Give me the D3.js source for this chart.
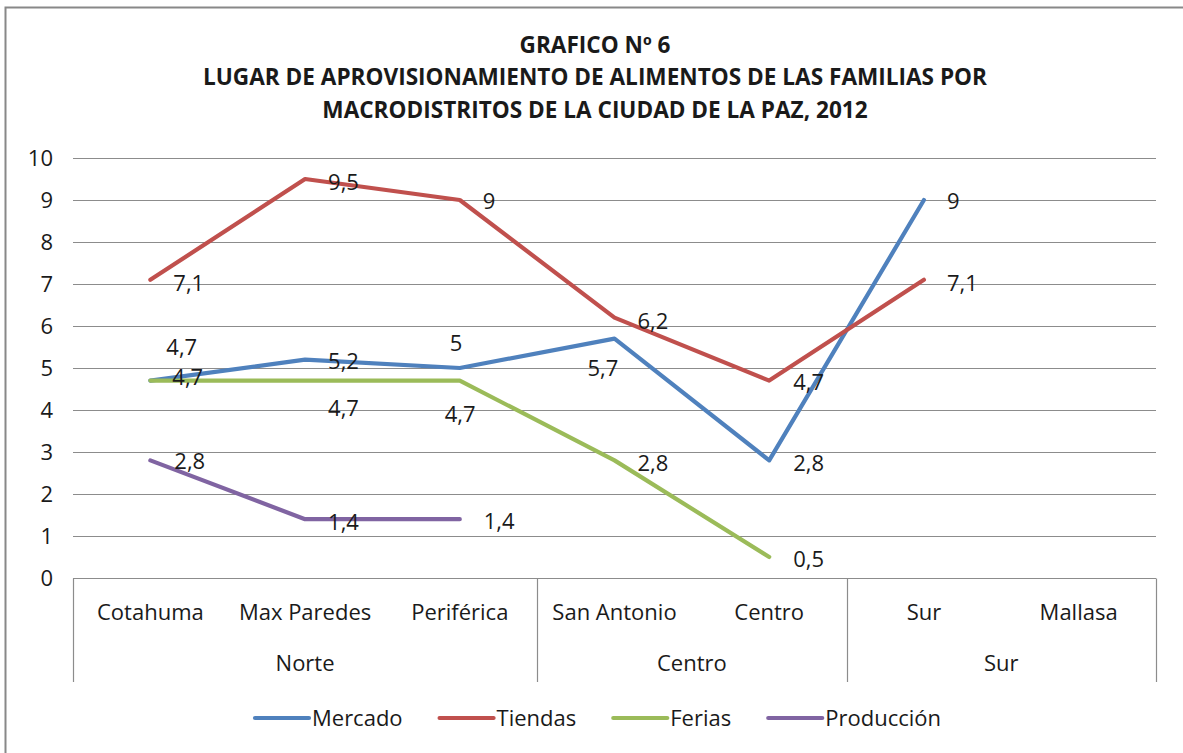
<!DOCTYPE html>
<html>
<head>
<meta charset="utf-8">
<script src="https://cdn.jsdelivr.net/npm/d3@7"></script>
<style>
  body { margin: 0; background: #fff; }
  svg text { font-family: "Open Sans", sans-serif; fill: #1a1a1a; }
</style>
</head>
<body>
<svg id="chart" width="1183" height="753"></svg>
<script>
const titleLines = [
  'GRAFICO Nº 6',
  'LUGAR DE APROVISIONAMIENTO DE ALIMENTOS DE LAS FAMILIAS POR',
  'MACRODISTRITOS DE LA CIUDAD DE LA PAZ, 2012'
]
const districts = ['Cotahuma', 'Max Paredes', 'Periférica', 'San Antonio', 'Centro', 'Sur', 'Mallasa']
const groups = ['Norte', 'Centro', 'Sur']
const groupSpan = [[0, 2], [3, 4], [5, 6]]
const yTicks = [0, 1, 2, 3, 4, 5, 6, 7, 8, 9, 10]

const seriesNames = ['Mercado', 'Tiendas', 'Ferias', 'Producción']
const mercado    = [4.7, 5.2, 5, 5.7, 2.8, 9, null]
const tiendas    = [7.1, 9.5, 9, 6.2, 4.7, 7.1, null]
const ferias     = [4.7, 4.7, 4.7, 2.8, 0.5, null, null]
const produccion = [2.8, 1.4, 1.4, null, null, null, null]
const colors = ['#4F81BD', '#C0504D', '#9BBB59', '#8064A2']

// label offsets from each point (left edge of text, vertical centre)
const mercadoLbl    = [[16, -33], [23, 2], [-10, -25], [-27, 30], [24, 3], [23, 1]]
const tiendasLbl    = [[23, 3], [23, 3], [23, 1], [23, 4], [24, 2], [23, 3]]
const feriasLbl     = [[22, -3], [23, 28], [-15, 34], [23, 3], [24, 2]]
const produccionLbl = [[24, 1], [23, 3], [24, 2]]

const series = [mercado, tiendas, ferias, produccion]
const labelOffsets = [mercadoLbl, tiendasLbl, feriasLbl, produccionLbl]

const svg = d3.select('#chart')
const margin = {top: 158, right: 27, bottom: 175, left: 73}
const W = 1183, H = 753
const fs = 22

// outer frame
svg.append('rect')
  .attr('x', 5.5).attr('y', 7.5)
  .attr('width', W + 20).attr('height', H + 20)
  .attr('fill', 'none').attr('stroke', '#888').attr('stroke-width', 2)

// title
svg.append('g')
  .selectAll('text')
  .data(titleLines)
  .join('text')
    .attr('x', 595)
    .attr('y', (d, i) => 45 + i * 32.5)
    .attr('dy', '0.35em')
    .attr('text-anchor', 'middle')
    .attr('font-weight', 'bold')
    .attr('font-size', 22.6)
    .text(d => d)

const x = d3.scaleBand()
  .domain(d3.range(districts.length))
  .range([margin.left, W - margin.right])
  .padding(0)

const y = d3.scaleLinear()
  .domain([0, 10])
  .range([H - margin.bottom, margin.top])

// gridlines
svg.append('g')
  .selectAll('line')
  .data(yTicks.filter(d => d > 0))
  .join('line')
    .attr('x1', margin.left).attr('x2', W - margin.right)
    .attr('y1', d => Math.round(y(d)) + 0.5).attr('y2', d => Math.round(y(d)) + 0.5)
    .attr('stroke', '#8c8c8c').attr('stroke-width', 1.2)

// y axis
const yAxis = svg.append('g')
  .attr('transform', 'translate(' + margin.left + ',0)')
  .call(d3.axisLeft(y).tickValues(yTicks).tickSize(0).tickPadding(20))
yAxis.select('.domain').remove()
yAxis.selectAll('text')
  .attr('font-size', fs)
  .attr('font-family', '"Open Sans", sans-serif')
  .attr('fill', '#1a1a1a')

// category axis box
const axisY = Math.round(y(0)) + 0.5
const axisBottom = 682
const xAxisG = svg.append('g')
xAxisG.append('line')
  .attr('x1', margin.left).attr('x2', W - margin.right)
  .attr('y1', axisY).attr('y2', axisY)
  .attr('stroke', '#8c8c8c').attr('stroke-width', 1.2)

const seps = [0].concat(groupSpan.map(g => g[1] + 1))
xAxisG.selectAll('line.sep')
  .data(seps)
  .join('line')
    .attr('class', 'sep')
    .attr('x1', d => Math.round(x(d) !== undefined ? x(d) : W - margin.right) + 0.5)
    .attr('x2', d => Math.round(x(d) !== undefined ? x(d) : W - margin.right) + 0.5)
    .attr('y1', axisY).attr('y2', axisBottom)
    .attr('stroke', '#8c8c8c').attr('stroke-width', 1.2)

xAxisG.selectAll('text.cat')
  .data(districts)
  .join('text')
    .attr('class', 'cat')
    .attr('x', (d, i) => x(i) + x.bandwidth() / 2)
    .attr('y', 612)
    .attr('dy', '0.35em')
    .attr('text-anchor', 'middle')
    .attr('font-size', fs)
    .text(d => d)

xAxisG.selectAll('text.grp')
  .data(groups)
  .join('text')
    .attr('class', 'grp')
    .attr('x', (d, i) => (x(groupSpan[i][0]) + x(groupSpan[i][1]) + x.bandwidth()) / 2)
    .attr('y', 663)
    .attr('dy', '0.35em')
    .attr('text-anchor', 'middle')
    .attr('font-size', fs)
    .text(d => d)

// lines
const line = d3.line()
  .defined(d => d != null)
  .x((d, i) => x(i) + x.bandwidth() / 2)
  .y(d => y(d))

svg.append('g')
  .selectAll('path')
  .data(series)
  .join('path')
    .attr('d', d => line(d))
    .attr('fill', 'none')
    .attr('stroke', (d, i) => colors[i])
    .attr('stroke-width', 4.2)
    .attr('stroke-linejoin', 'round')
    .attr('stroke-linecap', 'round')

// data labels
series.forEach((vals, s) => {
  const pts = vals.map((v, i) => ({v, i})).filter(p => p.v != null)
  svg.append('g')
    .selectAll('text')
    .data(pts)
    .join('text')
      .attr('x', (p, k) => x(p.i) + x.bandwidth() / 2 + labelOffsets[s][k][0])
      .attr('y', (p, k) => y(p.v) + labelOffsets[s][k][1])
      .attr('dy', '0.35em')
      .attr('font-size', fs)
      .text(p => String(p.v).replace('.', ','))
})

// legend
const legend = svg.append('g').attr('transform', 'translate(0,718)')
const items = legend.selectAll('g')
  .data(seriesNames)
  .join('g')
items.append('line')
  .attr('x1', 0).attr('x2', 54)
  .attr('stroke', (d, i) => colors[i])
  .attr('stroke-width', 4.2)
  .attr('stroke-linecap', 'round')
items.append('text')
  .attr('x', 57)
  .attr('dy', '0.35em')
  .attr('font-size', fs)
  .text(d => d)

const widths = []
items.each(function () {
  widths.push(this.querySelector('text').getComputedTextLength() + 57)
})
const gap = 37
const total = d3.sum(widths) + gap * (widths.length - 1)
let cursor = 598 - total / 2
items.attr('transform', (d, i) => {
  const t = 'translate(' + cursor + ',0)'
  cursor += widths[i] + gap
  return t
})
</script>
</body>
</html>
